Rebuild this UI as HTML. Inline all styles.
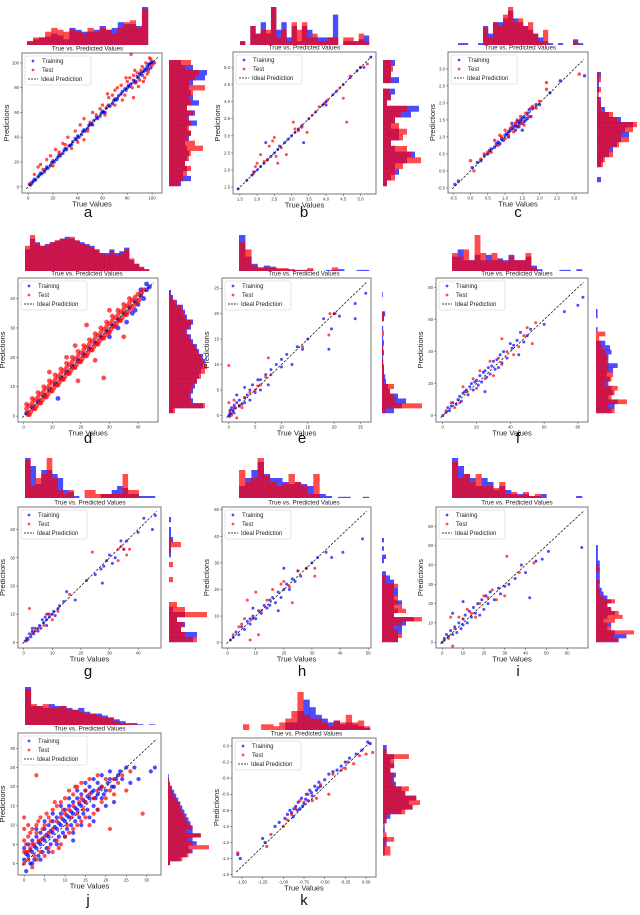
<!DOCTYPE html>
<html><head><meta charset="utf-8"><style>
html,body{margin:0;padding:0;background:#fff;}
svg{display:block;font-family:"Liberation Sans","DejaVu Sans",sans-serif;}
</style></head><body>
<svg id="fig" width="640" height="915" viewBox="0 0 640 915"></svg>
<script>
// ---------- data ----------
const aTrain=[[1,2],[2,1.5],[3,3],[4,4.5],[5,6],[6,5.5],[8,8],[9,9.5],[10,11],[11,10.5],[13,12],[14,14],[15,16],[16,15],[18,17],[19,19.5],[20,21],[21,20],[23,22],[24,24],[25,26],[26,25],[28,27],[29,29.5],[30,31],[31,30],[33,33],[34,33.5],[35,34],[36,36.5],[38,39],[39,38],[40,41],[41,40],[43,42],[44,44.5],[45,46],[46,45],[48,47],[49,49.5],[50,51],[51,50.5],[52,50],[53,53.5],[55,56],[56,55],[58,57],[59,59.5],[60,61],[61,60],[62,60],[63,63.5],[65,66],[66,65],[68,67],[69,69.5],[70,71],[71,70],[72,71],[73,73.5],[75,75],[76,77],[78,79],[79,78],[80,80],[81,82],[82,81],[83,83],[85,86],[86,84],[87,85],[88,89],[89,88],[90,91],[91,92],[92,90],[93,93],[94,95],[95,94],[96,97],[97,95],[98,99],[99,100],[100,101],[99,96],[97,99],[101,100]];
const aTest=[[2,3],[5,10],[8,16],[10,18],[12,14],[15,22],[18,25],[20,17],[22,30],[25,28],[28,35],[30,34],[32,40],[35,31],[38,45],[40,36],[42,50],[45,55],[48,45],[50,52],[52,60],[55,58],[58,63],[60,66],[62,58],[64,65],[65,72],[68,74],[70,66],[72,80],[75,82],[78,74],[80,85],[82,88],[84,80],[85,90],[87,84],[88,92],[90,86],[92,97],[94,88],[95,100],[97,93],[98,104],[100,98],[102,100],[83,107],[64,75],[85,72],[86,94],[89,81],[91,94],[93,85],[96,91],[99,103],[79,88],[76,70],[70,78],[45,38]];
const bTrain=[[1.45,1.45],[1.7,1.7],[1.85,1.85],[1.9,1.95],[2.0,2.0],[2.1,2.1],[2.2,2.2],[2.3,2.3],[2.4,2.4],[2.5,2.5],[2.6,2.6],[2.65,2.7],[2.8,2.8],[2.9,2.9],[3.0,3.0],[3.1,3.1],[3.2,3.2],[3.3,3.3],[3.35,2.8],[3.5,3.5],[3.7,3.7],[3.9,3.9],[4.0,4.0],[4.2,4.2],[4.3,4.3],[4.5,4.5],[4.7,4.7],[4.9,4.9],[5.0,5.0],[5.1,5.0],[5.3,5.3],[2.25,2.8],[4.0,3.9]];
const bTest=[[1.9,1.9],[1.95,2.1],[2.0,2.2],[2.1,2.45],[2.2,2.25],[2.3,2.3],[2.35,2.7],[2.45,2.85],[2.5,2.95],[2.55,2.4],[2.6,2.2],[2.7,2.65],[2.85,2.45],[3.05,3.4],[3.1,3.2],[3.2,3.15],[3.3,3.25],[3.45,3.1],[3.6,3.6],[3.8,3.85],[3.95,3.95],[4.05,4.05],[4.4,4.4],[4.5,4.1],[4.6,3.4],[4.7,4.75],[5.0,5.0],[5.2,5.1]];
const cTrain=[[-0.45,-0.4],[-0.35,-0.3],[0.05,0.1],[0.2,0.25],[0.3,0.3],[0.4,0.45],[0.5,0.5],[0.55,0.6],[0.6,0.65],[0.7,0.7],[0.75,0.8],[0.8,0.85],[0.9,0.95],[0.95,0.9],[1.0,1.05],[1.05,1.1],[1.1,1.15],[1.15,1.2],[1.2,1.25],[1.25,1.3],[1.3,1.35],[1.35,1.3],[1.4,1.45],[1.45,1.5],[1.5,1.55],[1.55,1.6],[1.6,1.5],[1.65,1.7],[1.7,1.8],[1.75,1.6],[1.8,1.85],[1.9,1.95],[2.0,1.95],[2.3,2.3],[2.6,2.65],[3.3,2.8],[1.5,1.2],[1.2,1.4],[1.3,1.2],[1.4,1.3],[1.45,1.4],[1.55,1.45],[1.65,1.55],[1.1,1.0],[0.85,0.8],[1.35,1.45]];
const cTest=[[0.0,0.3],[0.1,0.0],[0.3,0.35],[0.4,0.5],[0.5,0.55],[0.6,0.55],[0.7,0.9],[0.8,0.75],[0.9,1.0],[1.0,0.95],[1.1,1.05],[1.2,1.3],[1.25,1.15],[1.3,1.4],[1.4,1.35],[1.45,1.6],[1.5,1.4],[1.6,1.7],[1.7,1.6],[1.75,1.85],[1.8,1.9],[1.9,1.85],[2.0,2.05],[2.2,2.6],[2.2,2.4],[3.15,2.85],[1.0,1.2],[0.85,1.05],[1.35,1.5],[1.55,1.35],[1.15,1.25]];
const dTrain=[[1,1],[3,3],[5,5],[7,7],[9,9],[11,11],[13,13],[15,15],[17,17],[19,19],[21,21],[23,23],[25,25],[27,27],[29,29],[31,31],[33,33],[35,35],[37,37],[39,39],[41,41],[43,43],[44,44],[33,30],[36,32],[30,27],[12,6],[40,38],[42,40],[43,45],[41,43],[39,36],[38,35]];
const dTest=[[1,2.5],[1.5,0.5],[1,4],[2,3.5],[2.5,1.5],[2,0.5],[3,4.5],[3.5,2.5],[3,6],[4,5.5],[4.5,3.5],[4,2.5],[5,6.5],[5.5,4.5],[5,8],[6,7.5],[6.5,5.5],[6,4.5],[7,8.5],[7.5,6.5],[7,10],[8,9.5],[8.5,7.5],[8,6.5],[9,10.5],[9.5,8.5],[9,12],[10,11.5],[10.5,9.5],[10,8.5],[11,12.5],[11.5,10.5],[11,14],[12,13.5],[12.5,11.5],[12,10.5],[13,14.5],[13.5,12.5],[13,16],[14,15.5],[14.5,13.5],[14,12.5],[15,16.5],[15.5,14.5],[15,18],[16,17.5],[16.5,15.5],[16,14.5],[17,18.5],[17.5,16.5],[17,20],[18,19.5],[18.5,17.5],[18,16.5],[19,20.5],[19.5,18.5],[19,22],[20,21.5],[20.5,19.5],[20,18.5],[21,22.5],[21.5,20.5],[21,24],[22,23.5],[22.5,21.5],[22,20.5],[23,24.5],[23.5,22.5],[23,26],[24,25.5],[24.5,23.5],[24,22.5],[25,26.5],[25.5,24.5],[25,28],[26,27.5],[26.5,25.5],[26,24.5],[27,28.5],[27.5,26.5],[27,30],[28,29.5],[28.5,27.5],[28,26.5],[29,30.5],[29.5,28.5],[29,32],[30,31.5],[30.5,29.5],[30,28.5],[31,32.5],[31.5,30.5],[31,34],[32,33.5],[32.5,31.5],[32,30.5],[33,34.5],[33.5,32.5],[33,36],[34,35.5],[34.5,33.5],[34,32.5],[35,36.5],[35.5,34.5],[35,38],[36,37.5],[36.5,35.5],[36,34.5],[37,38.5],[37.5,36.5],[37,40],[38,39.5],[38.5,37.5],[39,40.5],[39.5,38.5],[40,41.5],[40.5,39.5],[41,42],[42,43],[19,12],[28,13],[22,31],[9,15],[35,27],[15,20],[25,19],[18,24],[30,36]];
const eTrain=[[0,0],[0.1,-0.2],[0.2,0.5],[0.3,1],[0.5,0.3],[0.5,1.5],[0.8,1],[1,2],[1,0.5],[1.2,1.5],[1.5,2.5],[2,1.8],[2,3],[2.5,2.2],[3,3.5],[3,2.5],[3.5,4],[4,3],[4,5],[4.5,6],[5,4.5],[5.5,7],[6,5],[6,7],[7,8],[7.5,6],[8,9],[9,10],[10,9.5],[10,11],[11,12],[12,10],[13,13.5],[14,13],[15,15],[18,19],[19,13],[19.5,17],[20,20],[21,19.5],[24,19],[24,22],[26,24],[3,5.5],[1.5,4]];
const eTest=[[0,9.8],[0,2.5],[0.2,1],[0.5,0],[1,1.5],[1.5,-0.5],[2,2],[2.5,1.5],[3,3.5],[4,4.5],[5,5],[5.5,5.8],[6,6],[7,7.5],[7.5,11.3],[8,8],[14,13.5],[19,15.8],[19.2,20],[20.2,20],[1,3]];
const fTrain=[[0,0],[2,2],[3,5],[4,3],[5,6],[6,8],[8,7],[9,10],[10,12],[11,9],[12,14],[13,15],[14,16],[15,13],[16,18],[17,20],[18,16],[19,21],[20,22],[21,19],[22,25],[23,21],[24,27],[25,28],[26,24],[27,30],[28,26],[29,31],[30,34],[31,29],[32,35],[33,30],[34,38],[35,33],[36,40],[38,36],[40,45],[41,42],[42,44],[44,47],[46,52],[48,46],[50,50],[52,54],[45,38],[60,57],[72,65],[80,69],[83,74],[25,15]];
const fTest=[[2,3],[5,8],[7,5],[10,8],[12,18],[14,15],[18,23],[20,17],[22,28],[25,23],[28,34],[30,25],[33,36],[35,32],[38,40],[42,38],[45,43],[48,50],[50,55],[53,45],[55,58],[35,48]];
const gTrain=[[0.5,0.5],[1,1.5],[1.5,1],[2,3],[2.5,2],[3,4],[3.5,3],[4,5],[5,4],[5.5,6],[6,5],[6.5,8],[7,7],[7.5,9],[8,8],[8.5,10],[9,9],[10,10],[10.5,11],[11,9.5],[12,12],[12.5,13],[14,14.5],[15,18],[18,15],[22,22],[25,24],[27,26],[27.5,21],[28,27],[29,29],[30,31],[31,28],[32,30],[34,36],[35,33],[36,36],[40,39],[42,44],[45,40],[46,45],[3,5],[8,6]];
const gTest=[[1,0.5],[2,12],[3,3.5],[4,4],[5,5],[7,6],[8,10],[9,10],[10,8],[12,11],[16,17],[24,32],[33,33],[34,34],[35,33],[36,31],[37,33],[33,29]];
const hTrain=[[1,1],[2,2],[3,4],[4,3],[5,6],[6,5],[7,8],[8,7],[8,9],[9,10],[10,9],[11,12],[12,11],[13,14],[14,13],[15,16],[15,14],[16,17],[17,15],[18,19],[19,17],[20,20],[20,28],[21,22],[22,20],[23,24],[24,23],[25,27],[26,25],[28,28],[30,30],[32,32],[35,34],[37,32],[41,34],[48,39],[18,12],[9,13]];
const hTest=[[2,3],[4,6],[5,7],[7,16],[8,1],[9,9],[10,19],[11,3],[12,12],[14,16],[16,20],[19,22],[20,23],[22,21],[23,15],[25,27],[28,28],[31,25],[31,28],[6,9]];
const iTrain=[[0,0],[1,2],[2,4],[3,3],[4,6],[5,4],[6,8],[7,5],[8,10],[9,7],[10,12],[10,9],[11,14],[12,10],[13,16],[14,13],[15,18],[16,15],[17,20],[18,14],[19,22],[20,17],[21,24],[22,20],[23,26],[25,22],[27,28],[28,25],[30,29],[32,30],[35,33],[38,40],[40,36],[42,23],[45,42],[48,43],[51,47],[67,49],[10,21],[5,15]];
const iTest=[[1,1],[3,2],[5,-2],[6,7],[8,13],[10,12],[12,17],[14,15],[16,13],[18,20],[20,24],[22,23],[24,27],[26,22],[30,24],[31,44.5],[37,36],[44,41],[4,13]];
const jTrain=[[0,1],[0,4],[0.5,-2],[1,2],[1,5],[1.5,0],[2,3],[2,6],[2.5,1],[3,4],[3,7],[3.5,2],[4,5],[4,8],[4.5,3],[5,6],[5,9],[5.5,4],[6,7],[6,10],[6.5,5],[7,8],[7,11],[7.5,6],[8,9],[8,12],[8.5,7],[9,10],[9,13],[9.5,8],[10,11],[10,14],[10.5,9],[11,12],[11,15],[11.5,10],[12,13],[12,16],[12.5,11],[13,14],[13,17],[13.5,12],[14,15],[14,18],[14.5,13],[15,16],[15,19],[15.5,14],[16,17],[16,20],[17,15],[17,19],[18,18],[18,21],[19,17],[19,20],[20,19],[21,22],[22,20],[23,23],[24,22],[25,25],[26,21],[27,25],[28,22],[31,24],[32,25],[17,11],[12,6],[0.5,2.5],[1.5,3.5],[2.5,4.5],[3.5,5.5],[4.5,6.5],[5.5,7.5],[6.5,8.5],[7.5,9.5],[8.5,10.5],[9.5,11.5],[10.5,12.5],[11.5,13.5],[12.5,14.5],[13.5,15.5],[14.5,16.5],[15.5,17.5],[16.5,18.5],[17.5,17],[18.5,19.5],[19.5,18],[20.5,21],[21.5,20],[22.5,22],[23.5,24],[2,0],[4,1],[6,3],[8,5],[10,7],[12,8],[14,10],[16,12],[18,14],[20,15],[22,16],[3,9],[5,11],[7,13],[9,15],[11,17],[13,19],[15,21],[17,22],[19,23],[21,24]];
const jTest=[[0,0],[0,6],[0,9],[0.5,3],[1,7],[1,1],[1.5,4],[2,9],[2,-1],[2.5,5],[3,1],[3,10],[3.5,6],[4,3],[4,12],[5,2],[5,10],[6,4],[6,12],[7,3],[7,14],[8,6],[8,15],[9,5],[9,16],[10,7],[10,17],[11,8],[11,19],[12,9],[12,18],[13,10],[13,20],[14,11],[14,21],[15,12],[15,19],[16,10],[16,22],[17,13],[18,14],[18,23],[19,16],[20,17],[20,22],[21,9],[22,18],[23,21],[25,19],[29,13],[3,23],[0,12],[0,3],[0.5,5],[1,3],[1,10],[1.5,8],[2,5],[2.5,2],[3,8],[3.5,11],[4,6],[4.5,9],[5,7],[5.5,13],[6,8],[6.5,11],[7,9],[7.5,16],[8,11],[8.5,4],[9,12],[9.5,14],[10,13],[10.5,10],[11,14],[11.5,12],[12,15],[12.5,20],[13,13],[13.5,16],[14,17],[14.5,14],[15,16],[16,18],[17,17],[18,19],[19,20],[21,19],[22,22],[24,23],[26,24]];
const kTrain=[[-1.55,-1.35],[-1.52,-1.4],[-1.25,-1.15],[-1.22,-1.2],[-1.1,-1.0],[-1.05,-0.95],[-0.98,-0.9],[-0.95,-0.85],[-0.92,-0.8],[-0.9,-0.83],[-0.87,-0.78],[-0.85,-0.75],[-0.82,-0.7],[-0.8,-0.78],[-0.78,-0.65],[-0.75,-0.72],[-0.72,-0.6],[-0.7,-0.68],[-0.68,-0.55],[-0.65,-0.62],[-0.62,-0.5],[-0.6,-0.55],[-0.57,-0.45],[-0.55,-0.5],[-0.5,-0.42],[-0.45,-0.35],[-0.4,-0.32],[-0.35,-0.3],[-0.3,-0.25],[-0.25,-0.2],[-0.2,-0.15],[-0.12,-0.1],[-0.05,-0.05],[0.02,0.05],[0.05,0.03],[-0.88,-0.88],[-0.83,-0.8],[-0.77,-0.75],[-0.73,-0.66],[-0.66,-0.58],[-0.58,-0.52]];
const kTest=[[-1.55,-1.33],[-1.2,-1.25],[-1.15,-1.1],[-1.0,-1.0],[-0.95,-0.92],[-0.9,-0.85],[-0.85,-0.78],[-0.8,-0.68],[-0.75,-0.7],[-0.7,-0.6],[-0.65,-0.68],[-0.6,-0.65],[-0.55,-0.48],[-0.45,-0.6],[-0.4,-0.35],[-0.3,-0.3],[-0.22,-0.2],[-0.15,-0.22],[-0.08,-0.12],[0.0,-0.1],[0.08,-0.08],[-0.25,-0.28]];

const aTopTr=[.1,.15,.2,.22,.3,.25,.15,.45,.4,.35,.35,.4,.5,.4,.45,.6,.55,.55,.5,1];
const aTopTe=[.1,.2,.2,.35,.45,.4,.35,.4,.35,.3,.45,.35,.45,.4,.3,.45,.6,.65,.45,.95];
const aSideTr=[.3,.55,.35,.45,.4,.45,.5,.45,.4,.5,.55,.45,.7,.5,.65,.45,.75,.6,.55,.5,.6,.9,.95,.6,.3];
const aSideTe=[.25,.35,.45,.55,.4,.5,.55,.85,.65,.45,.55,.5,.55,.45,.6,.45,.55,.5,.6,.9,.5,.65,.75,.4,.55];
const bTopTr=[.1,0,.5,.3,.6,.3,1,.4,.6,.2,.5,.1,.5,.4,.2,.2,.2,.2,.8,0,.1,.1,.1,.15,.25];
const bTopTe=[.1,0,.5,.3,.4,.4,1,.2,.4,.1,.6,.4,.6,.2,.3,.1,.1,.2,.2,0,.2,.2,.1,.3,.1];
const bSideTr=[.1,.2,.4,.3,.6,.8,.3,.2,.4,.4,.2,.3,.7,.9,.1,.2,.3,0,.4,.2,.2,.3];
const bSideTe=[.1,.3,.3,.5,.95,.7,.6,.2,.5,.6,.4,.3,.45,.6,.1,.2,.15,0,.2,.2,.25,.2];
const cTopTr=[.05,.05,0,0,.05,.5,.3,.6,.6,.7,.9,.7,.6,.5,.4,.3,.2,.1,.05,0,.05,0,0,.15,.05];
const cTopTe=[0,0,0,0,0,.45,.2,.6,.5,.8,1,.6,.7,.5,.6,.3,.1,.4,0,0,0,0,0,.1,0];
const cSideTr=[.1,0,0,.1,.15,.3,.4,.5,.6,.8,.7,.9,.6,.3,.2,.1,.1,0,.05,.05,.05,.1];
const cSideTe=[0,0,0,.15,.2,.4,.3,.55,.8,.6,.9,1,.5,.4,.1,.1,.05,.05,.1,0,.1,.05];
const dTopTr=[.6,.9,.8,.7,.75,.8,.85,.9,.95,.9,.85,.8,.75,.7,.6,.5,.5,.6,.5,.55,.65,.3,.2,.1,.05];
const dTopTe=[.7,1,.75,.7,.7,.8,.85,.9,.9,.95,.85,.75,.7,.65,.6,.5,.45,.55,.45,.5,.6,.35,.2,.12,.05];
const dSideTr=[.1,.85,.6,.55,.6,.65,.7,.75,.8,.85,.9,.85,.75,.7,.6,.55,.45,.55,.6,.45,.4,.35,.2,.1,.05];
const dSideTe=[.15,.9,.55,.5,.55,.6,.7,.8,.9,.95,.85,.8,.7,.65,.55,.5,.4,.5,.55,.4,.35,.3,.15,.08,.03];
const eTopTr=[1,.4,.2,.1,.15,.12,.05,.05,.05,.03,.03,.03,0,0,.03,.03,.05,0,0,.03,.03];
const eTopTe=[.8,.6,.15,.1,.1,.08,.08,.08,.03,.03,.03,.08,0,0,0,.1,0,0,0,0,0];
const eSideTr=[.3,.5,.6,.4,.2,.15,.1,.08,.05,.05,.03,.03,.05,.03,.05,.03,0,.03,0,.05,.08,0,0,0,.02];
const eSideTe=[.1,1,.35,.3,.2,.3,.05,.05,.05,.05,.03,0,.03,.03,0,0,.05,0,0,.05,.05,0,0,0,0];
const fTopTr=[.4,.6,.3,.3,.45,.3,.45,.3,.35,.3,.45,.3,.3,.4,.15,.05,0,0,0,.03,.03,0,.05];
const fTopTe=[.5,.4,.6,.3,1,.5,.3,.5,.3,.25,.4,.3,.3,.5,.1,0,0,0,0,0,0,0,0];
const fSideTr=[.5,.6,.7,.4,.55,.5,.4,.45,.35,.55,.7,.4,.4,.5,.45,.3,0,0,.05,0,0,.05,.05,0,0];
const fSideTe=[.6,.4,1,.5,.6,.7,.3,.5,.55,.4,.4,.35,.35,.3,.2,.15,.1,.3,0,0,0,0,0,0,0];
const gTopTr=[1,.8,.35,.7,.7,.6,.5,.2,.15,.05,0,0,0,0,.1,.1,.2,.3,.25,.1,.1,.05,.05,.05];
const gTopTe=[.95,.3,.5,.6,1,.5,.2,.1,.2,0,0,.2,.2,.1,.1,.1,.1,.1,.6,.2,.2,0,0,0];
const gSideTr=[.6,.7,.3,.4,.2,.4,.1,0,0,0,0,0,0,0,0,0,0,.05,.05,.05,.1,.05,.05,0,.05];
const gSideTe=[.7,.4,.3,.35,.2,.95,.4,.2,0,0,0,0,.1,0,0,.1,0,0,.05,.3,.05,0,0,0,0];
const hTopTr=[.3,.5,.7,.9,.6,.5,.5,.4,.35,.4,.35,.3,.1,.1,.05,0,.03,.03,0,0,.03];
const hTopTe=[.7,.4,.5,1,.55,.4,.3,.35,.6,.4,.3,.1,.6,0,0,0,0,0,0,0,0];
const hSideTr=[.4,.4,.5,.5,.6,.8,.3,.4,.3,.5,.3,.4,.4,.3,.3,.2,.1,0,0,.05,.1,0,.05,0,.05];
const hSideTe=[.4,.5,.4,.3,.5,1,.3,.6,.5,.4,.4,.3,.3,.4,.1,.1,0,0,0,0,0,0,0,0,0];
const iTopTr=[1,.8,.6,.5,.3,.5,.4,.2,.3,.2,.1,.1,.1,.05,.05,.1,0,0,0,0,0,.05];
const iTopTe=[.9,.5,.6,.4,.6,.3,.3,.25,.4,.1,.15,.05,.15,.05,.1,0,0,0,0,0,0,0];
const iSideTr=[.6,.8,.5,.3,.4,.2,.3,.5,.4,.3,.4,.3,.2,.15,.1,.1,.1,.1,.1,.1,.1,.05,.05,.05,.05];
const iSideTe=[.55,.45,1,.4,.3,.5,.7,.6,.4,.3,.5,.2,.1,.1,.05,.1,0,0,.1,.05,0,0,0,0,0];
const jTopTr=[1,.5,.5,.45,.55,.5,.5,.45,.4,.45,.35,.3,.3,.25,.2,.15,.1,.05,.05,.02,0,.02];
const jTopTe=[.95,.55,.5,.55,.45,.45,.5,.4,.4,.35,.3,.3,.25,.2,.2,.1,.05,.03,.02,0,0,0];
const jSideTr=[.05,.3,.45,.6,.5,.7,.6,.8,.6,.6,.55,.5,.45,.4,.35,.3,.25,.2,.15,.1,.05,.03,.02,0,0];
const jSideTe=[.05,.35,.5,.55,1,.6,.5,.8,.45,.6,.5,.45,.4,.35,.3,.3,.2,.15,.1,.08,.03,.02,0,0,0];
const kTopTr=[0,0,0,0,0,0,0,.2,.2,.5,.8,.6,.4,.3,.2,.25,.15,.2,.15,.1,.05];
const kTopTe=[.15,0,0,.15,.15,.1,.2,.3,.5,1,.4,.3,.3,.2,.1,.25,.2,.4,.2,.25,.1];
const kSideTr=[0,.05,.05,.1,.1,0,.05,0,.1,.2,.5,.8,.7,.9,.6,.5,.35,.3,.35,.2,.3,.2,.3,.1,.1];
const kSideTe=[0,.2,.2,.05,.3,.1,0,.05,.05,.1,.6,.8,1,.9,.6,.7,.3,.25,.3,.2,.3,.3,.7,.1,0];

const aTicks=[0,20,40,60,80,100];
const bTicks=[1.5,2.0,2.5,3.0,3.5,4.0,4.5,5.0];
const cTicks=[-0.5,0.0,0.5,1.0,1.5,2.0,2.5,3.0];
const dTicks=[0,10,20,30,40];
const eTicks=[0,5,10,15,20,25];
const fTicks=[0,20,40,60,80];
const gTicks=[0,10,20,30,40];
const hTicks=[0,10,20,30,40,50];
const iTicks=[0,10,20,30,40,50,60];
const jXTicks=[0,5,10,15,20,25,30];
const jYTicks=[0,5,10,15,20,25,30];
const kXTicks=[-1.5,-1.25,-1.0,-0.75,-0.5,-0.25,0.0];
const kYTicks=[-1.6,-1.4,-1.2,-1.0,-0.8,-0.6,-0.4,-0.2,0.0];

// ---------- layout (positions only) ----------
const layout=[
 {id:'a',box:[22,53,140,140],top:[27,7,121,38],side:[169,60,40,126],lab:[88,217],xd:[-5,108],yd:[-5,108],tr:aTrain,te:aTest,tt:aTopTr,te2:aTopTe,st:aSideTr,se:aSideTe,xt:aTicks,yt:aTicks,dec:0,r:1.7},
 {id:'b',box:[233,52,143,142],top:[240,7,129,38],side:[383,60,40,126],lab:[304,217],xd:[1.3,5.45],yd:[1.3,5.45],tr:bTrain,te:bTest,tt:bTopTr,te2:bTopTe,st:bSideTr,se:bSideTe,xt:bTicks,yt:bTicks,dec:1,r:1.5},
 {id:'c',box:[448,52,140,141],top:[458,7,125,38],side:[597,72,40,110],lab:[518,217],xd:[-0.65,3.4],yd:[-0.65,3.5],tr:cTrain,te:cTest,tt:cTopTr,te2:cTopTe,st:cSideTr,se:cSideTe,xt:cTicks,yt:cTicks,dec:1,r:1.7},
 {id:'d',box:[18,278,140,144],top:[25,235,124,36],side:[169,290,40,123],lab:[88,443],xd:[-2,47],yd:[-2,47],tr:dTrain,te:dTest,tt:dTopTr,te2:dTopTe,st:dSideTr,se:dSideTe,xt:dTicks,yt:dTicks,dec:0,r:2.4},
 {id:'e',box:[222,278,149,144],top:[239,235,130,36],side:[382,292,40,121],lab:[302,443],xd:[-1.3,27],yd:[-1.3,27],tr:eTrain,te:eTest,tt:eTopTr,te2:eTopTe,st:eSideTr,se:eSideTe,xt:eTicks,yt:eTicks,dec:0,r:1.5},
 {id:'f',box:[436,278,152,144],top:[452,235,130,36],side:[596,300,31,113],lab:[518,443],xd:[-4,86],yd:[-4,86],tr:fTrain,te:fTest,tt:fTopTr,te2:fTopTe,st:fSideTr,se:fSideTe,xt:fTicks,yt:fTicks,dec:0,r:1.5},
 {id:'g',box:[18,507,143,141],top:[25,458,130,40],side:[169,517,40,125],lab:[88,676],xd:[-2,48],yd:[-2,48],tr:gTrain,te:gTest,tt:gTopTr,te2:gTopTe,st:gSideTr,se:gSideTe,xt:gTicks,yt:gTicks,dec:0,r:1.5},
 {id:'h',box:[222,507,149,141],top:[239,458,130,40],side:[382,538,40,104],lab:[302,676],xd:[-2,51],yd:[-2,51],tr:hTrain,te:hTest,tt:hTopTr,te2:hTopTe,st:hSideTr,se:hSideTe,xt:hTicks,yt:hTicks,dec:0,r:1.5},
 {id:'i',box:[436,507,152,141],top:[452,458,130,40],side:[596,545,38,97],lab:[518,676],xd:[-3,70],yd:[-3,70],tr:iTrain,te:iTest,tt:iTopTr,te2:iTopTe,st:iSideTr,se:iSideTe,xt:iTicks,yt:iTicks,dec:0,r:1.5},
 {id:'j',box:[18,733,143,142],top:[25,687,130,38],side:[168,766,41,99],lab:[88,905],xd:[-1.5,33.5],yd:[-3,34],tr:jTrain,te:jTest,tt:jTopTr,te2:jTopTe,st:jSideTr,se:jSideTe,xt:jXTicks,yt:jYTicks,dec:0,r:2.1},
 {id:'k',box:[232,738,144,139],top:[243,692,127,38],side:[383,745,37,115],lab:[304,905],xd:[-1.62,0.12],yd:[-1.63,0.1],tr:kTrain,te:kTest,tt:kTopTr,te2:kTopTe,st:kSideTr,se:kSideTe,xt:kXTicks,yt:kYTicks,dec:2,ydec:1,r:1.6}
];

const NS='http://www.w3.org/2000/svg';
const svg=document.getElementById('fig');
function mk(tag,attrs,parent){const e=document.createElementNS(NS,tag);for(const k in attrs)e.setAttribute(k,attrs[k]);(parent||svg).appendChild(e);return e;}
const BLUE='rgba(0,0,255,0.7)',RED='rgba(255,0,0,0.7)';

layout.forEach(p=>{
 const g=mk('g',{});
 
 
 const [bx,by,bw,bh]=p.box;
 const X=v=>bx+(v-p.xd[0])/(p.xd[1]-p.xd[0])*bw;
 const Y=v=>by+bh-(v-p.yd[0])/(p.yd[1]-p.yd[0])*bh;
 const [tx,ty,tw,th]=p.top;
 const hg=mk('g',{},g);
 
 
 [[p.tt,BLUE],[p.te2,RED]].forEach(([arr,col])=>{
  const w=tw/arr.length;
  arr.forEach((v,i)=>{if(v<=0)return;
   const r=mk('rect',{x:tx+i*w,y:ty+th-v*th,width:w+0.2,height:v*th,fill:col},hg);
   
   });
 });
 const [sx,sy,sw,sh]=p.side;
 const sg=mk('g',{},g);
 
 
 [[p.st,BLUE],[p.se,RED]].forEach(([arr,col])=>{
  const h=sh/arr.length;
  arr.forEach((v,i)=>{if(v<=0)return;
   const r=mk('rect',{x:sx,y:sy+sh-(i+1)*h,width:v*sw,height:h+0.2,fill:col},sg);
   
   });
 });
 const t=mk('text',{x:tx+tw/2,y:by-2.5,'font-size':6.3,'text-anchor':'middle',fill:'#222'},g);
 t.textContent='True vs. Predicted Values';
 
 
 const ax=mk('rect',{x:bx,y:by,width:bw,height:bh,fill:'#fff',stroke:'#777','stroke-width':1},g);
 
 
 const fmt=(v,d)=>v.toFixed(d);
 p.xt.forEach(v=>{
  const x=X(v);
  mk('line',{x1:x,y1:by+bh,x2:x,y2:by+bh+2,stroke:'#444','stroke-width':0.5},g);
  const tl=mk('text',{x:x,y:by+bh+6.5,'font-size':4.3,'text-anchor':'middle',fill:'#333'},g);
  tl.textContent=fmt(v,p.dec);
  
  
 });
 p.yt.forEach(v=>{
  const y=Y(v);
  mk('line',{x1:bx-2,y1:y,x2:bx,y2:y,stroke:'#444','stroke-width':0.5},g);
  const tl=mk('text',{x:bx-3,y:y+1.5,'font-size':4.3,'text-anchor':'end',fill:'#333'},g);
  tl.textContent=fmt(v,p.ydec!==undefined?p.ydec:p.dec);
  
  
 });
 const xl=mk('text',{x:bx+bw/2,y:by+bh+13.5,'font-size':7.5,'text-anchor':'middle',fill:'#222'},g);
 xl.textContent='True Values';
 
 
 const yx=bx-13,yy=by+bh/2;
 const yl=mk('text',{x:yx,y:yy,'font-size':7.5,'text-anchor':'middle',fill:'#222',transform:`rotate(-90 ${yx} ${yy})`},g);
 yl.textContent='Predictions';
 
 
 p.tr.forEach(([a,b])=>{
  const c=mk('circle',{cx:X(a),cy:Y(b),r:p.r,fill:BLUE},g);
  
  
 });
 p.te.forEach(([a,b])=>{
  const c=mk('circle',{cx:X(a),cy:Y(b),r:p.r,fill:RED},g);
  
  
 });
 const lo=Math.max(p.xd[0],p.yd[0])+(p.xd[1]-p.xd[0])*0.03, hi=Math.min(p.xd[1],p.yd[1])-(p.xd[1]-p.xd[0])*0.03;
 const il=mk('line',{x1:X(lo),y1:Y(lo),x2:X(hi),y2:Y(hi),stroke:'#000','stroke-width':0.7,'stroke-dasharray':'2.5,1.5'},g);
 
 
 const lg=mk('g',{},g);
 
 
 mk('rect',{x:bx+3,y:by+3,width:66,height:29,fill:'rgba(255,255,255,0.85)',stroke:'#ccc','stroke-width':0.5,rx:1.5},lg);
 const entries=[['Training','dot',BLUE],['Test','dot',RED],['Ideal Prediction','line','#000']];
 entries.forEach(([name,kind,col],i)=>{
  const ey=by+10+i*9;
  if(kind==='dot'){mk('circle',{cx:bx+11,cy:ey-2,r:1.4,fill:col},lg);}
  else{mk('line',{x1:bx+6,y1:ey-2,x2:bx+16,y2:ey-2,stroke:'#000','stroke-width':0.7,'stroke-dasharray':'2,1'},lg);}
  const tx2=mk('text',{x:bx+(kind==='dot'?20:19),y:ey,'font-size':6,fill:'#222'},lg);
  tx2.textContent=name;
  
  
 });
 const L=mk('text',{x:p.lab[0],y:p.lab[1],'font-size':15,'text-anchor':'middle',fill:'#111'},g);
 L.textContent=p.id;
 
 
});
</script>
</body></html>
